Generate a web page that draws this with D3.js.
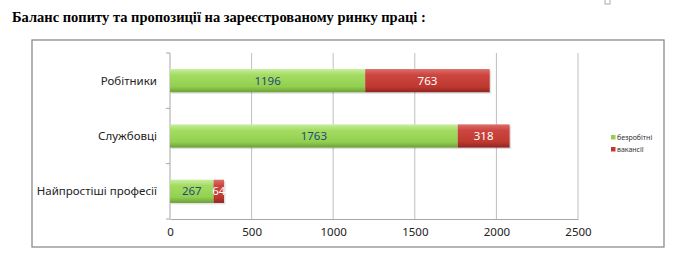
<!DOCTYPE html>
<meta charset="utf-8">
<html>
<head>
<style>
  body { margin: 0; background: #fff; }
  .title { font-family: "Liberation Serif", serif; font-weight: bold; font-size: 14.5px; }
  .cat { font-family: "Noto Sans", sans-serif; font-size: 11.5px; fill: #222; }
  .tick text { font-family: "Noto Sans", sans-serif; font-size: 11.5px; fill: #222; }
  .lbl { font-family: "Noto Sans", sans-serif; font-size: 11.5px; }
  .leg { font-family: "Noto Sans", sans-serif; font-size: 7px; fill: #333; }
</style>
</head>
<body>
<div id="chart"></div>
<script src="https://d3js.org/d3.v7.min.js"></script>
<script>

  // data
  var categories = ["Робітники", "Службовці", "Найпростіші професії"];
  var unemployed = [1196, 1763, 267];
  var vacancies = [763, 318, 64];
  var seriesNames = ["безробітні", "вакансії"];
  var xTicks = [0, 500, 1000, 1500, 2000, 2500];

  var W = 687, H = 277;
  var svg = d3.select("#chart").append("svg")
      .attr("width", W)
      .attr("height", H);

  var defs = svg.append("defs");
  function grad(id, stops) {
    var g = defs.append("linearGradient").attr("id", id)
      .attr("x1", 0).attr("y1", 0).attr("x2", 0).attr("y2", 1);
    stops.forEach(function(s) {
      g.append("stop").attr("offset", s[0]).attr("stop-color", s[1]);
    });
  }
  grad("gGreen", [[0, "#c8eea0"], [0.25, "#a4dc62"], [0.75, "#92d050"], [1, "#6e9f38"]]);
  grad("gRed", [[0, "#de6f6a"], [0.25, "#cc4641"], [0.75, "#c0392f"], [1, "#8e2622"]]);

  // title
  svg.append("text")
    .attr("class", "title")
    .attr("x", 12)
    .attr("y", 22)
    .text("Баланс попиту та пропозиції на зареєстрованому ринку праці :");

  // small marker top right
  svg.append("rect")
    .attr("x", 605).attr("y", -3).attr("width", 5).attr("height", 7)
    .attr("fill", "none").attr("stroke", "#999").attr("stroke-width", 0.8);

  // chart frame
  svg.append("rect")
    .attr("x", 32).attr("y", 40)
    .attr("width", 632).attr("height", 207)
    .attr("fill", "#fff")
    .attr("stroke", "#8c8c8c")
    .attr("stroke-width", 1.3);

  var pLeft = 170, pRight = 578, pTop = 53, pBottom = 219;

  var x = d3.scaleLinear().domain([0, 2500]).range([pLeft, pRight]);
  var y = d3.scaleBand().domain(categories).range([pTop, pBottom]).paddingInner(0.58).paddingOuter(0.29);

  // gridlines
  svg.append("g").selectAll("line")
    .data(xTicks.slice(1))
    .enter().append("line")
      .attr("x1", function(d) { return x(d); })
      .attr("x2", function(d) { return x(d); })
      .attr("y1", pTop).attr("y2", pBottom)
      .attr("stroke", "#bfbfbf").attr("stroke-width", 1);

  // x axis
  var xAxis = svg.append("g")
    .attr("transform", "translate(0," + pBottom + ")")
    .call(d3.axisBottom(x).tickValues(xTicks).tickFormat(d3.format("d")).tickSize(0).tickPadding(9));
  xAxis.select(".domain").attr("stroke", "#a6a6a6");

  // y axis line with ticks at band boundaries
  svg.append("line")
    .attr("x1", pLeft).attr("x2", pLeft).attr("y1", pTop).attr("y2", pBottom)
    .attr("stroke", "#a6a6a6");
  var step = (pBottom - pTop) / categories.length;
  svg.append("g").selectAll("line")
    .data(d3.range(categories.length + 1))
    .enter().append("line")
      .attr("x1", pLeft - 4).attr("x2", pLeft)
      .attr("y1", function(i) { return pTop + i * step; })
      .attr("y2", function(i) { return pTop + i * step; })
      .attr("stroke", "#a6a6a6");

  // category labels
  svg.append("g").selectAll("text")
    .data(categories)
    .enter().append("text")
      .attr("class", "cat")
      .attr("x", 157)
      .attr("y", function(d) { return y(d) + y.bandwidth() / 2; })
      .attr("dy", "0.35em")
      .attr("text-anchor", "end")
      .text(function(d) { return d; });

  var rows = categories.map(function(c, i) {
    return { cat: c, u: unemployed[i], v: vacancies[i] };
  });

  // shadows
  svg.append("g").selectAll("rect")
    .data(rows)
    .enter().append("rect")
      .attr("x", x(0) + 1.5)
      .attr("y", function(d) { return y(d.cat) + 1.5; })
      .attr("width", function(d) { return x(d.u + d.v) - x(0); })
      .attr("height", y.bandwidth())
      .attr("fill", "#000").attr("opacity", 0.12);

  // green bars
  svg.append("g").selectAll("rect")
    .data(rows)
    .enter().append("rect")
      .attr("x", x(0))
      .attr("y", function(d) { return y(d.cat); })
      .attr("width", function(d) { return x(d.u) - x(0); })
      .attr("height", y.bandwidth())
      .attr("fill", "url(#gGreen)");

  // red bars
  svg.append("g").selectAll("rect")
    .data(rows)
    .enter().append("rect")
      .attr("x", function(d) { return x(d.u); })
      .attr("y", function(d) { return y(d.cat); })
      .attr("width", function(d) { return x(d.u + d.v) - x(d.u); })
      .attr("height", y.bandwidth())
      .attr("fill", "url(#gRed)");

  // value labels
  svg.append("g").selectAll("text")
    .data(rows)
    .enter().append("text")
      .attr("class", "lbl")
      .attr("x", function(d) { return (x(0) + x(d.u)) / 2; })
      .attr("y", function(d) { return y(d.cat) + y.bandwidth() / 2; })
      .attr("dy", "0.36em")
      .attr("text-anchor", "middle")
      .attr("fill", "#1f497d")
      .text(function(d) { return d.u; });

  svg.append("g").selectAll("text")
    .data(rows)
    .enter().append("text")
      .attr("class", "lbl")
      .attr("x", function(d) { return (x(d.u) + x(d.u + d.v)) / 2; })
      .attr("y", function(d) { return y(d.cat) + y.bandwidth() / 2; })
      .attr("dy", "0.36em")
      .attr("text-anchor", "middle")
      .attr("fill", "#fff")
      .text(function(d) { return d.v; });

  // legend
  var legColors = ["#92d050", "#c0392f"];
  var leg = svg.append("g").selectAll("g")
    .data(seriesNames)
    .enter().append("g")
      .attr("transform", function(d, i) { return "translate(611," + (135 + i * 12) + ")"; });
  leg.append("rect")
    .attr("width", 4.5).attr("height", 4.5)
    .attr("fill", function(d, i) { return legColors[i]; });
  leg.append("text")
    .attr("class", "leg")
    .attr("x", 6).attr("y", 2.5).attr("dy", "0.35em")
    .text(function(d) { return d; });

</script>
</body>
</html>
